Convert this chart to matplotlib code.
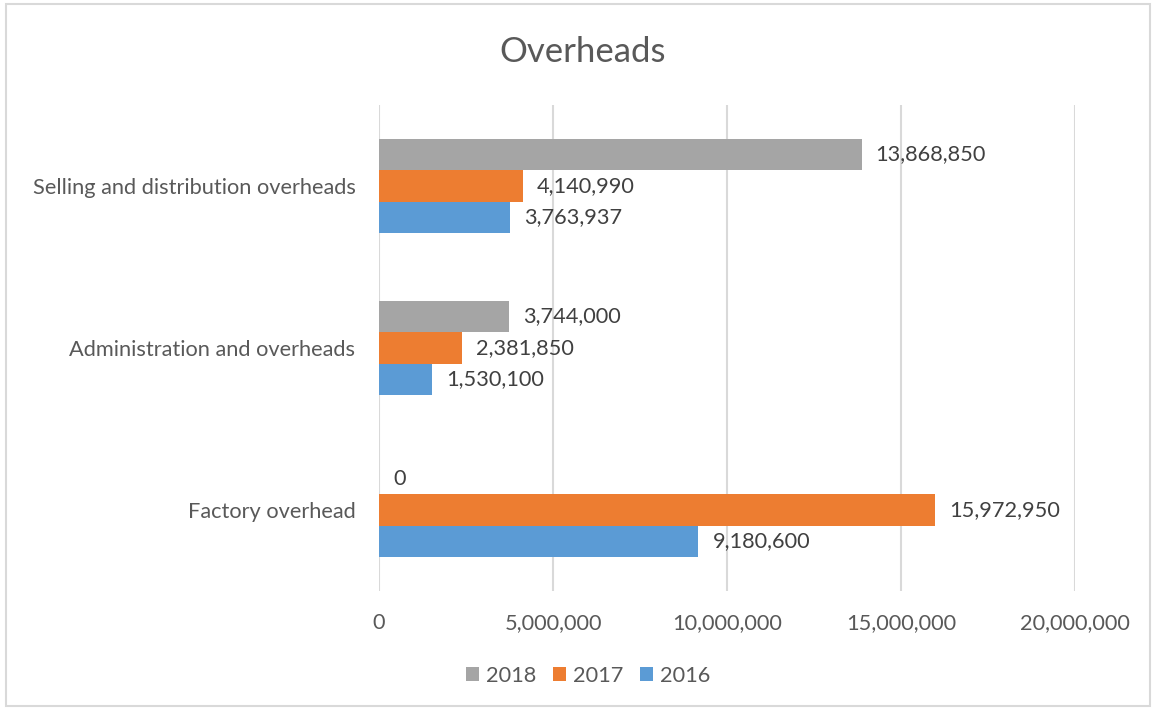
import matplotlib
matplotlib.use("Agg")
import matplotlib.pyplot as plt
from matplotlib.patches import Rectangle

categories = ["Factory overhead", "Administration and overheads", "Selling and distribution overheads"]
years = ["2016", "2017", "2018"]
values_2016 = [9180600, 1530100, 3763937]
values_2017 = [15972950, 2381850, 4140990]
values_2018 = [0, 3744000, 13868850]
colors = {"2016": "#5B9BD5", "2017": "#ED7D31", "2018": "#A5A5A5"}
xticks = [0, 5000000, 10000000, 15000000, 20000000]

plt.rcParams['font.family'] = ['Lato', 'DejaVu Sans']
txt = "#595959"
lbl = "#404040"
fs = 15.7

fig = plt.figure(figsize=(11.53, 7.10), dpi=100)
fig.patches.append(Rectangle((6/1153, 4/710), 1144/1153, 702/710, transform=fig.transFigure,
                             fill=False, edgecolor="#D9D9D9", linewidth=1.5))
ax = fig.add_axes([379/1153, 1-591/710, (1075-379)/1153, (591-105)/710])

h = 0.194
series = [("2016", values_2016, -h), ("2017", values_2017, 0), ("2018", values_2018, h)]
for name, vals, off in series:
    ys = [i + off for i in range(len(categories))]
    ax.barh(ys, vals, height=h, color=colors[name], label=name, zorder=3)
    for y, v in zip(ys, vals):
        ax.annotate(f"{v:,}", (v, y), xytext=(14, 0), textcoords="offset pixels",
                    va="center", ha="left", fontsize=fs, color=lbl)

ax.set_xlim(0, 20000000)
ax.set_ylim(-0.5, 2.5)
ax.set_xticks(xticks)
ax.set_xticklabels([f"{v:,}" for v in xticks], fontsize=fs, color=txt)
ax.set_yticks(range(len(categories)))
ax.set_yticklabels(categories, fontsize=fs, color=txt)
ax.tick_params(axis="both", length=0)
ax.tick_params(axis="y", pad=17)
ax.tick_params(axis="x", pad=16)
for s in ax.spines.values():
    s.set_visible(False)
ax.grid(axis="x", color="#D9D9D9", linewidth=1.5, zorder=0)
ax.set_axisbelow(True)

fig.text(583/1153, 1-52/710, "Overheads", ha="center", va="center", fontsize=25, color=txt)

handles, labels = ax.get_legend_handles_labels()
order = [2, 1, 0]
leg = fig.legend([handles[i] for i in order], [labels[i] for i in order], loc="center",
                 bbox_to_anchor=(588/1153, 1-676/710), ncol=3, frameon=False, fontsize=fs,
                 handlelength=0.6, handleheight=0.6, handletextpad=0.33, columnspacing=0.75)
for t in leg.get_texts():
    t.set_color(txt)

fig.savefig("out.png", dpi=100, facecolor="white")
